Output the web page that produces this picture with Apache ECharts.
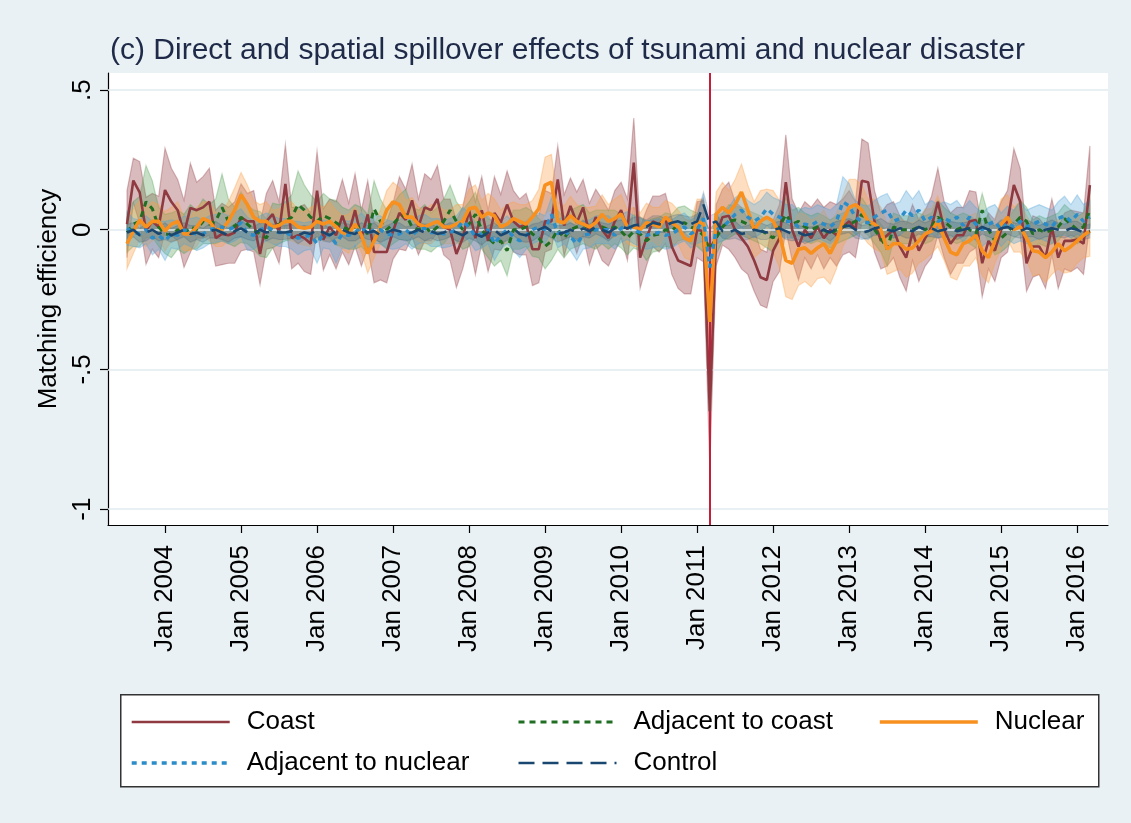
<!DOCTYPE html>
<html>
<head>
<meta charset="utf-8">
<script src="https://cdn.jsdelivr.net/npm/echarts@6/dist/echarts.min.js"></script>
<style>
html,body{margin:0;padding:0;background:#E9F1F4;}
#chart{width:1131px;height:823px;}
</style>
</head>
<body>
<div id="chart"></div>
<script>
// ---- DATA ----
// Monthly observations, first month = Jul 2003; x value = months since Jan 2004
const firstMonthOffset = -6;           // Jul 2003
const disasterMonthOffset = 86;        // Mar 2011
const xTickYears = [2004,2005,2006,2007,2008,2009,2010,2011,2012,2013,2014,2015,2016];
const yTicks = [-1, -0.5, 0, 0.5];
const yTickLabels = ['-1', '-.5', '0', '.5'];
const seriesNames = ['Coast', 'Adjacent to coast', 'Nuclear', 'Adjacent to nuclear', 'Control'];

const coast = [
 0.02,0.176,0.134,-0.004,0.03,0.01,0.142,0.10,0.07,-0.015,0.078,0.07,0.08,0.10,-0.03,-0.015,-0.02,-0.01,0.044,0.03,0.03,-0.087,0.03,0.056,-0.01,
 0.164,-0.03,-0.02,-0.03,-0.05,0.14,-0.035,0.01,-0.02,0.05,-0.015,0.07,-0.03,0.055,-0.08,-0.08,-0.08,-0.005,0.06,0.035,0.105,0.01,0.08,0.07,0.11,0.01,
 0,-0.087,-0.03,0.07,-0.03,0.07,-0.04,0.06,0.026,0.09,0.03,0.01,0.02,-0.07,-0.07,0.03,0.03,0.18,0.015,0.085,0.025,0.08,-0.015,0.045,0,-0.03,0.03,
 0.07,0,0.24,-0.10,-0.03,0.03,0.02,0.04,-0.06,-0.11,-0.12,-0.13,0,-0.005,-0.65,-0.02,0.045,0.05,0,-0.03,-0.06,-0.11,-0.17,-0.18,-0.075,-0.03,0.17,
 0,-0.06,0,-0.03,0.01,-0.03,0,-0.02,0.01,0.03,0,0.175,0.17,0.03,-0.04,-0.02,0,-0.06,-0.10,-0.01,-0.075,-0.03,0.01,0.10,0,-0.05,-0.02,
 -0.02,0.03,0.035,-0.12,-0.04,-0.075,0,0.03,0.16,0.10,-0.12,-0.06,-0.06,-0.1,0.01,-0.1,-0.04,-0.04,-0.035,-0.05,0.16
];
const coastCI = [
 0.12,0.08,0.11,0.12,0.10,0.11,0.15,0.12,0.11,0.12,0.16,0.10,0.11,0.12,0.10,0.11,0.10,0.11,0.12,0.10,0.11,0.11,0.10,0.12,0.11,
 0.14,0.11,0.10,0.12,0.11,0.14,0.11,0.10,0.12,0.13,0.11,0.13,0.10,0.12,0.11,0.10,0.11,0.10,0.13,0.11,0.13,0.10,0.12,0.11,0.12,0.10,
 0.11,0.12,0.11,0.12,0.13,0.12,0.11,0.13,0.10,0.12,0.11,0.10,0.11,0.13,0.12,0.11,0.10,0.12,0.11,0.10,0.11,0.10,0.11,0.10,0.11,0.10,0.11,
 0.10,0.11,0.16,0.11,0.10,0.09,0.10,0.09,0.10,0.10,0.11,0.10,0.10,0.11,0.20,0.11,0.10,0.12,0.10,0.11,0.10,0.11,0.10,0.10,0.11,0.12,0.17,
 0.11,0.12,0.10,0.11,0.10,0.11,0.10,0.11,0.10,0.11,0.10,0.15,0.14,0.11,0.10,0.11,0.10,0.11,0.12,0.10,0.11,0.10,0.11,0.12,0.10,0.11,0.10,
 0.10,0.11,0.10,0.12,0.10,0.11,0.10,0.11,0.13,0.12,0.10,0.11,0.10,0.11,0.10,0.11,0.10,0.11,0.10,0.11,0.14
];

const adjCoast = [
 -0.01,0.02,0.03,0.10,0.075,0.01,-0.015,-0.02,0,-0.015,0.01,0,0.03,0.02,0.03,0.08,0.03,0.01,0.045,0.02,0,-0.015,-0.03,0.015,0.02,
 0.03,0.045,0.09,0.07,0.045,0.03,0.05,0.04,0.025,0.01,0,0.01,0.01,-0.015,0.075,0.03,0,0.02,0.045,0.055,0.01,0,0.01,-0.01,0.01,0.03,
 0.07,0.03,0,0.02,0.055,0,-0.03,-0.05,-0.04,-0.075,0,0,0.01,-0.015,-0.03,-0.06,-0.04,0,-0.03,0,0.01,0.02,0,0,0.01,0,0.01,
 -0.005,-0.03,-0.005,-0.015,-0.04,-0.02,-0.015,0,-0.005,0.02,0.025,0.01,0,-0.02,-0.07,-0.03,0.01,0.03,0.035,0.03,0.02,0.01,0,-0.015,-0.03,0.01,0.055,
 0.02,0.03,0.01,0,0.01,0,-0.015,0,0.01,0.02,0.03,0.055,0.03,0,-0.03,-0.07,0.01,0,0,0,0.01,0,0.01,0.045,0.03,0.01,0,
 0.01,0,-0.015,0.07,0,-0.04,-0.03,-0.01,0.02,0.045,0.03,-0.015,0,-0.01,0,0.01,0.04,0.02,0,0.01,0.07
];
const adjCoastCI = [
 0.07,0.08,0.09,0.13,0.10,0.07,0.07,0.08,0.07,0.07,0.08,0.07,0.08,0.07,0.08,0.12,0.08,0.07,0.09,0.07,0.07,0.08,0.07,0.08,0.07,
 0.07,0.08,0.12,0.09,0.08,0.07,0.08,0.07,0.08,0.07,0.07,0.08,0.07,0.07,0.10,0.08,0.07,0.07,0.08,0.09,0.07,0.07,0.08,0.07,0.07,0.08,
 0.09,0.07,0.07,0.08,0.08,0.07,0.07,0.08,0.07,0.09,0.07,0.07,0.07,0.08,0.07,0.08,0.07,0.07,0.07,0.07,0.07,0.07,0.06,0.07,0.06,0.07,0.06,
 0.06,0.06,0.06,0.06,0.07,0.06,0.06,0.06,0.06,0.06,0.06,0.06,0.06,0.06,0.07,0.06,0.05,0.06,0.05,0.05,0.05,0.05,0.05,0.05,0.05,0.05,0.06,
 0.05,0.05,0.05,0.05,0.05,0.05,0.05,0.05,0.05,0.05,0.05,0.06,0.05,0.05,0.05,0.06,0.05,0.05,0.05,0.05,0.05,0.05,0.05,0.06,0.05,0.05,0.05,
 0.05,0.05,0.05,0.06,0.05,0.05,0.05,0.05,0.05,0.06,0.05,0.05,0.05,0.05,0.05,0.05,0.05,0.05,0.05,0.05,0.06
];

const nuclear = [
 -0.05,-0.005,0.035,0.01,0.03,0.03,-0.005,0.02,0.03,-0.015,-0.015,0.01,0.04,0.03,0,0,0.03,0.07,0.125,0.09,0.045,0.03,0.03,0.01,0.015,
 0.03,0.03,0.01,0.005,0.01,0.03,0.02,0.03,0.01,-0.01,-0.015,0.02,-0.02,-0.085,-0.04,0.01,0.07,0.1,0.09,0.045,0.045,0.02,0.01,0.02,0.03,0.01,
 0.01,0.02,0.03,0.075,0.08,0.045,0.06,0.05,0.01,0.02,0.04,0.03,0.02,0.045,0.075,0.16,0.17,0.03,0.025,0.05,0.03,0.02,0.01,0.025,0.055,0.03,0.04,
 0.056,0.01,0.01,0,0.025,0.02,0.01,0.045,0.025,0.01,-0.03,-0.04,0.03,0.02,-0.33,0.055,0.08,0.06,0.09,0.135,0.07,0,0.03,0.045,0.03,-0.015,-0.11,
 -0.12,-0.07,-0.065,-0.085,-0.065,-0.05,-0.085,-0.04,0.03,0.08,0.09,0.07,0.03,0.02,0,-0.07,-0.05,-0.05,-0.07,-0.065,-0.04,-0.015,-0.005,0.03,-0.03,-0.08,-0.09,
 -0.05,-0.04,-0.02,-0.075,-0.10,-0.04,0.02,0.045,0,0.01,-0.03,-0.075,-0.08,-0.10,-0.08,-0.05,-0.075,-0.06,-0.04,-0.02,-0.005
];
const nuclearCI = [
 0.09,0.08,0.07,0.07,0.07,0.06,0.07,0.06,0.07,0.06,0.06,0.07,0.06,0.07,0.06,0.06,0.07,0.08,0.08,0.07,0.06,0.06,0.07,0.06,0.06,
 0.06,0.07,0.06,0.06,0.07,0.06,0.06,0.07,0.06,0.06,0.07,0.06,0.06,0.07,0.06,0.06,0.07,0.07,0.06,0.06,0.07,0.06,0.06,0.07,0.06,0.06,
 0.06,0.07,0.06,0.07,0.08,0.06,0.07,0.06,0.06,0.07,0.06,0.06,0.07,0.06,0.07,0.10,0.10,0.07,0.06,0.07,0.06,0.06,0.07,0.06,0.07,0.06,0.07,
 0.07,0.06,0.07,0.06,0.07,0.06,0.07,0.06,0.07,0.06,0.07,0.07,0.08,0.09,0.12,0.08,0.09,0.08,0.09,0.10,0.09,0.10,0.11,0.10,0.11,0.12,0.13,
 0.13,0.13,0.12,0.12,0.11,0.12,0.11,0.10,0.09,0.10,0.09,0.09,0.08,0.09,0.08,0.09,0.10,0.09,0.10,0.09,0.08,0.09,0.08,0.09,0.08,0.09,0.09,
 0.08,0.09,0.08,0.09,0.09,0.08,0.09,0.08,0.08,0.09,0.08,0.09,0.08,0.09,0.08,0.09,0.08,0.09,0.08,0.08,0.09
];

const adjNuclear = [
 0.005,-0.01,-0.015,0,-0.03,-0.02,-0.04,-0.015,-0.02,0,-0.01,-0.015,-0.015,0,0.005,0.01,0,0.01,0.025,-0.015,-0.02,0,0.01,0,-0.01,
 -0.01,-0.02,-0.03,-0.025,-0.02,-0.05,-0.015,-0.02,-0.05,-0.015,-0.02,-0.01,0.01,-0.015,0,0,-0.015,-0.02,-0.015,0,-0.02,0,0.005,-0.01,-0.01,-0.015,
 -0.01,0,0.03,0.01,-0.025,-0.015,0,-0.05,-0.02,0,-0.025,-0.04,-0.02,0,0.01,0,0.055,-0.015,0,-0.025,-0.05,-0.02,-0.015,0,0,0,-0.02,
 0.005,0.015,0,-0.01,-0.02,-0.015,-0.01,-0.02,-0.015,0,0.01,-0.015,0,0.04,-0.135,0,0.01,0.03,0.055,0.07,0.045,0.03,0.045,0.075,0.055,0.045,0.03,
 0.03,0.01,0.02,0.015,0.03,0.02,0.01,0.03,0.10,0.085,0.045,0.03,0.025,0.045,0.06,0.07,0.03,0.04,0.07,0.05,0.07,0.03,0.045,0.03,0.04,0.03,0.045,
 0.015,0.045,0.02,0,0.02,0.03,0,0.025,0.01,0.03,0.01,0.02,0.03,0.02,0.01,0.04,0.05,0.03,0.055,0.03,0.045
];
const adjNuclearCI = [
 0.06,0.05,0.05,0.05,0.06,0.05,0.07,0.05,0.05,0.05,0.05,0.06,0.05,0.05,0.05,0.05,0.05,0.05,0.05,0.06,0.05,0.05,0.05,0.05,0.05,
 0.05,0.05,0.06,0.05,0.05,0.07,0.05,0.05,0.07,0.05,0.05,0.05,0.05,0.05,0.05,0.05,0.05,0.05,0.05,0.05,0.05,0.05,0.05,0.05,0.05,0.05,
 0.05,0.05,0.05,0.05,0.05,0.05,0.05,0.06,0.05,0.05,0.05,0.06,0.05,0.05,0.05,0.05,0.06,0.05,0.05,0.05,0.06,0.05,0.05,0.05,0.05,0.05,0.05,
 0.05,0.05,0.05,0.05,0.05,0.05,0.05,0.05,0.05,0.05,0.05,0.05,0.05,0.08,0.07,0.05,0.05,0.05,0.06,0.06,0.06,0.06,0.06,0.06,0.06,0.06,0.06,
 0.06,0.06,0.06,0.06,0.06,0.06,0.06,0.06,0.09,0.08,0.06,0.06,0.06,0.06,0.06,0.06,0.06,0.06,0.07,0.06,0.07,0.06,0.06,0.06,0.06,0.06,0.06,
 0.06,0.06,0.06,0.06,0.06,0.06,0.06,0.06,0.06,0.07,0.06,0.06,0.06,0.06,0.06,0.06,0.07,0.06,0.07,0.06,0.06
];

const control = [
 -0.01,0,-0.02,-0.01,0,-0.015,-0.005,-0.02,-0.01,0,-0.015,-0.01,-0.02,-0.005,0,-0.01,-0.02,-0.005,0.005,-0.01,-0.015,0,-0.01,-0.005,-0.01,
 -0.01,-0.005,-0.02,-0.01,-0.015,0,-0.01,-0.02,-0.005,0,-0.01,-0.015,0,-0.01,-0.005,-0.02,-0.01,0,-0.005,-0.015,-0.01,0,-0.01,-0.005,-0.015,-0.01,
 0,-0.01,-0.02,-0.005,-0.015,-0.025,-0.01,0,-0.02,-0.01,0.005,-0.015,-0.02,-0.01,0,0.01,-0.005,-0.015,-0.01,0,-0.01,0.005,-0.005,0.01,0,-0.01,0.005,
 0.01,0.005,0.015,0.02,0.01,0.025,0.02,0.015,0.025,0.03,0.02,0.02,0.03,0.09,0.02,0.03,-0.005,-0.01,0,-0.015,-0.01,0,-0.005,-0.01,0,0.005,-0.005,
 -0.015,-0.01,-0.02,-0.015,-0.01,0,-0.01,0.005,0.01,0.015,0,-0.01,-0.005,0.005,0.01,0,-0.005,0.005,0,-0.005,0.01,0,0.005,-0.005,0,0.005,-0.005,
 0,0.005,-0.005,0.01,0,-0.01,0.005,0.01,0,-0.005,0.005,0,-0.01,0,0.005,0,-0.005,0.005,0,-0.01,-0.005
];
const controlCI = [
 0.03,0.025,0.025,0.03,0.025,0.025,0.03,0.025,0.025,0.025,0.03,0.025,0.025,0.025,0.03,0.025,0.025,0.025,0.03,0.025,0.025,0.025,0.03,0.025,0.025,
 0.025,0.025,0.03,0.025,0.025,0.025,0.03,0.025,0.025,0.025,0.03,0.025,0.025,0.025,0.03,0.025,0.025,0.025,0.03,0.025,0.025,0.025,0.03,0.025,0.025,0.025,
 0.025,0.03,0.025,0.025,0.025,0.03,0.025,0.025,0.025,0.03,0.025,0.025,0.025,0.03,0.025,0.025,0.025,0.03,0.025,0.025,0.025,0.03,0.025,0.025,0.025,0.03,0.025,
 0.025,0.025,0.03,0.025,0.025,0.025,0.03,0.025,0.025,0.025,0.03,0.025,0.025,0.045,0.03,0.03,0.025,0.025,0.03,0.025,0.025,0.025,0.03,0.025,0.025,0.025,0.03,
 0.025,0.025,0.03,0.025,0.025,0.025,0.03,0.025,0.025,0.025,0.03,0.025,0.025,0.025,0.03,0.025,0.025,0.025,0.03,0.025,0.025,0.025,0.03,0.025,0.025,0.025,0.03,
 0.025,0.025,0.03,0.025,0.025,0.025,0.03,0.025,0.025,0.025,0.03,0.025,0.025,0.025,0.03,0.025,0.025,0.025,0.03,0.025,0.025
];

// ---- STYLE ----
const FONT = 'Liberation Sans, Arial, Helvetica, sans-serif';
const C = {
  coast: '#8E3A40', adjCoast: '#1F6E22', nuclear: '#F7901E', adjNuclear: '#2A8CC8', control: '#1A476F'
};
const xVals = coast.map((_, i) => i + firstMonthOffset);

function band(name, vals, ci, color, opacity) {
  const data = vals.map((v, i) => [xVals[i], v - ci[i], v + ci[i]]);
  return {
    type: 'custom', name: name + ' band', silent: true, z: 1, clip: true,
    data: data, encode: { x: 0, y: [1, 2] },
    renderItem: function (params, api) {
      if (params.dataIndex !== 0) return null;
      const top = data.map(d => api.coord([d[0], d[2]]));
      const bot = data.map(d => api.coord([d[0], d[1]])).reverse();
      return {
        type: 'polygon',
        shape: { points: top.concat(bot) },
        style: { fill: color, stroke: color, lineWidth: 1.2, opacity: opacity }
      };
    }
  };
}
function line(name, vals, color, width, type, z) {
  return {
    type: 'line', name: name, z: z, symbol: 'none', silent: true,
    data: vals.map((v, i) => [xVals[i], v]),
    lineStyle: { color: color, width: width, type: type, cap: 'butt' },
    itemStyle: { color: color }
  };
}

const chart = echarts.init(document.getElementById('chart'));
const legendCommon = {
  orient: 'vertical', top: 709, padding: 0, itemGap: 15, itemWidth: 98, itemHeight: 14,
  itemStyle: { opacity: 0 },
  lineStyle: { width: 'inherit' },
  textStyle: { fontSize: 26, color: '#000', fontFamily: FONT, padding: [0, 0, 0, 12] },
  selectedMode: false
};

const series = [
  // gridlines
  {
    type: 'line', data: [], z: 0, silent: true,
    markLine: {
      silent: true, symbol: 'none', label: { show: false },
      lineStyle: { color: '#E2EBEF', width: 1.5, type: 'solid' },
      data: yTicks.map(v => ({ yAxis: v }))
    }
  },
  band('Coast', coast, coastCI, '#9A4A52', 0.38),
  band('Adjacent to coast', adjCoast, adjCoastCI, '#4E9A4E', 0.32),
  band('Nuclear', nuclear, nuclearCI, '#F8A04A', 0.35),
  band('Adjacent to nuclear', adjNuclear, adjNuclearCI, '#4FA3D6', 0.32),
  band('Control', control, controlCI, '#1A476F', 0.18),
  line('Coast', coast, C.coast, 2.6, 'solid', 5),
  line('Adjacent to coast', adjCoast, C.adjCoast, 3, [6, 5], 6),
  line('Nuclear', nuclear, C.nuclear, 3.6, 'solid', 7),
  line('Adjacent to nuclear', adjNuclear, C.adjNuclear, 3.4, [5, 5], 8),
  line('Control', control, C.control, 2.6, [16, 8], 9),
  // disaster marker
  {
    type: 'line', data: [], z: 10, silent: true,
    markLine: {
      silent: true, symbol: 'none', label: { show: false },
      lineStyle: { color: '#C41E3A', width: 2, type: 'solid' },
      data: [{ xAxis: disasterMonthOffset }]
    }
  }
];

chart.setOption({
  backgroundColor: '#E9F1F4',
  animation: false,
  title: {
    text: '(c) Direct and spatial spillover effects of tsunami and nuclear disaster',
    left: 105, top: 31,
    textStyle: { fontSize: 30, fontWeight: 'normal', color: '#1E2A48', fontFamily: FONT }
  },
  grid: { left: 108, right: 23, top: 73, bottom: 298, show: true, backgroundColor: '#FFFFFF', borderWidth: 0 },
  xAxis: {
    type: 'value', min: -9, max: 148.86,
    axisLine: { show: true, onZero: false, lineStyle: { color: '#000', width: 1.2 } },
    axisTick: { show: true, length: 8, lineStyle: { color: '#000', width: 1.2 }, customValues: xTickYears.map(y => (y - 2004) * 12) },
    axisLabel: {
      rotate: 90, margin: 20, fontSize: 26, color: '#000', fontFamily: FONT,
      customValues: xTickYears.map(y => (y - 2004) * 12),
      formatter: v => 'Jan ' + (2004 + Math.round(v / 12))
    },
    splitLine: { show: false }
  },
  yAxis: {
    type: 'value', min: -1.057, max: 0.561,
    name: 'Matching efficiency', nameLocation: 'middle', nameRotate: 90, nameGap: 46,
    nameTextStyle: { fontSize: 26, color: '#000', fontFamily: FONT },
    axisLine: { show: true, onZero: false, lineStyle: { color: '#000', width: 1.2 } },
    axisTick: { show: true, length: 8, lineStyle: { color: '#000', width: 1.2 }, customValues: yTicks },
    axisLabel: {
      rotate: 90, margin: 12, fontSize: 26, color: '#000', fontFamily: FONT,
      customValues: yTicks,
      formatter: v => { const k = yTicks.findIndex(t => Math.abs(t - v) < 1e-6); return k >= 0 ? yTickLabels[k] : ''; }
    },
    splitLine: { show: false }
  },
  legend: [
    Object.assign({ left: 130, data: [seriesNames[0], seriesNames[3]] }, legendCommon),
    Object.assign({ left: 517, data: [seriesNames[1], seriesNames[4]] }, legendCommon),
    Object.assign({ left: 878, data: [seriesNames[2]] }, legendCommon)
  ],
  graphic: [
    { type: 'rect', left: 120, top: 694, z: -1, shape: { width: 978, height: 92 },
      style: { fill: '#FFFFFF', stroke: '#333', lineWidth: 1.5 } }
  ],
  series: series
});
</script>
</body>
</html>
